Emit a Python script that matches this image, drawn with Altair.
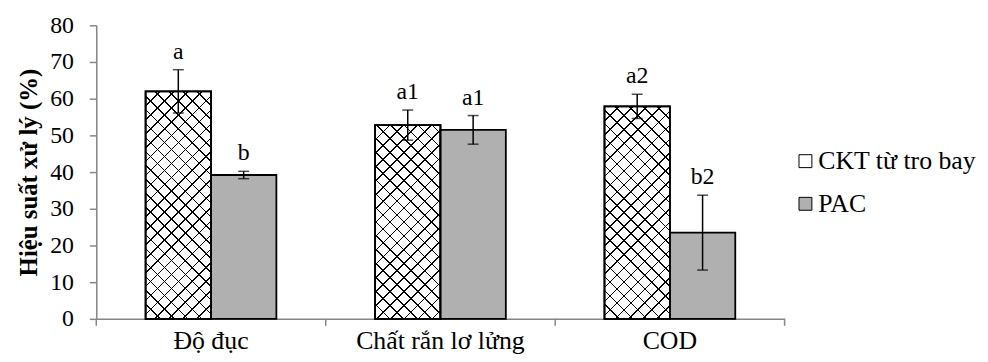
import altair as alt
import pandas as pd

# ---- data ----
categories = ["Độ đục", "Chất rắn lơ lửng", "COD"]
series = ["CKT từ tro bay", "PAC"]
ckt_values = [62.0, 52.8, 57.9]
ckt_errors = [5.9, 4.1, 3.3]
pac_values = [39.2, 51.5, 23.5]
pac_errors = [1.0, 3.9, 10.2]
ckt_labels = ["a", "a1", "a2"]
pac_labels = ["b", "a1", "b2"]
y_ticks = [0, 10, 20, 30, 40, 50, 60, 70, 80]
group_bounds = [0, 1, 2, 3]

rows = []
for i, c in enumerate(categories):
    rows.append(dict(cat=c, ser=series[0], val=ckt_values[i], err=ckt_errors[i],
                     lo=ckt_values[i] - ckt_errors[i], hi=ckt_values[i] + ckt_errors[i], lab=ckt_labels[i]))
    rows.append(dict(cat=c, ser=series[1], val=pac_values[i], err=pac_errors[i],
                     lo=pac_values[i] - pac_errors[i], hi=pac_values[i] + pac_errors[i], lab=pac_labels[i]))
df = pd.DataFrame(rows)
bounds_df = pd.DataFrame({"b": group_bounds})

W, H = 694, 296
YMAX = 80
FONT = "Liberation Serif"
GRAY_AX = "#868686"
PAC_COLOR = "#b0b0b0"
Y_TITLE = "Hiệu suất xử lý (%)"

step = W / len(categories)
inner = 0.43
band_w = step * (1 - inner)
bar_w = band_w / 2

x_scale = alt.Scale(domain=categories, paddingInner=inner, paddingOuter=inner / 2)
x_axis = alt.Axis(labelFont=FONT, labelFontSize=26, labelColor="black", labelAngle=0,
                  ticks=False, tickSize=0, labelPadding=30, domainColor=GRAY_AX,
                  domainWidth=1.5, labelBaseline="alphabetic", labelOverlap=False, grid=False)
y_scale = alt.Scale(domain=[0, YMAX], nice=False)
y_axis = alt.Axis(values=y_ticks, grid=False, labelFont=FONT, labelFontSize=24,
                  labelColor="black", tickSize=7, tickColor=GRAY_AX, tickWidth=1.5,
                  domainColor=GRAY_AX, domainWidth=1.5, labelPadding=16, labelOverlap=False,
                  titleFont=FONT, titleFontSize=25, titleFontWeight="bold",
                  titleColor="black", titlePadding=8)


def X():
    return alt.X("cat:N", sort=categories, title=None, scale=x_scale, axis=x_axis)


def Y(field):
    return alt.Y(field + ":Q", scale=y_scale, axis=y_axis, title=Y_TITLE)


xo_enc = alt.XOffset("ser:N", sort=series, scale=alt.Scale(domain=series, paddingInner=0, paddingOuter=0))

base = alt.Chart(df)

bars = base.mark_bar(stroke="black", strokeWidth=1.8).encode(
    x=X(), xOffset=xo_enc, y=Y("val"),
    fill=alt.Fill("ser:N", sort=series,
                  scale=alt.Scale(domain=series, range=["white", PAC_COLOR]),
                  legend=alt.Legend(title=None, orient="none", legendX=702, legendY=124,
                                    labelFont=FONT, labelFontSize=26, labelColor="black",
                                    symbolType="square", symbolSize=169, symbolStrokeColor="black",
                                    symbolStrokeWidth=1, labelOffset=0,
                                    rowPadding=17, padding=0, labelLimit=400))
)


def hatch(w, h, direction, period=14.0, thick=1.6):
    L = w + h
    stops = []
    c = 0.0
    clear = "rgba(0,0,0,0)"
    while c < L:
        a = c / L
        b = min((c + thick) / L, 1.0)
        stops += [{"color": clear, "offset": a}, {"color": "black", "offset": a},
                  {"color": "black", "offset": b}, {"color": clear, "offset": b}]
        c += period
    s = L / (w * w + h * h)
    if direction == "down":
        x1, y1, x2, y2 = 0, 0, w * s, h * s
    else:
        x1, y1, x2, y2 = 0, 1, w * s, 1 - h * s
    return {"gradient": "linear", "x1": x1, "y1": y1, "x2": x2, "y2": y2, "stops": stops}


layers = [bars]
for i, c in enumerate(categories):
    h = ckt_values[i] * H / YMAX
    for d in ("down", "up"):
        layers.append(
            base.transform_filter((alt.datum.cat == c) & (alt.datum.ser == series[0]))
            .mark_bar(fill=hatch(bar_w, h, d), strokeWidth=0)
            .encode(x=X(), xOffset=xo_enc, y=Y("val"))
        )

outline = base.transform_filter(alt.datum.ser == series[0]).mark_bar(
    fillOpacity=0, stroke="black", strokeWidth=1.8
).encode(x=X(), xOffset=xo_enc, y=Y("val"))
layers.append(outline)

err_rule = base.mark_rule(color="black", strokeWidth=1.5).encode(
    x=X(), xOffset=xo_enc, y=Y("lo"), y2="hi:Q")
err_top = base.mark_tick(color="black", thickness=1.5, size=11).encode(
    x=X(), xOffset=xo_enc, y=Y("hi"))
err_bot = base.mark_tick(color="black", thickness=1.5, size=11).encode(
    x=X(), xOffset=xo_enc, y=Y("lo"))
labels = base.mark_text(font=FONT, fontSize=24, color="black", baseline="alphabetic", dy=-11).encode(
    x=X(), xOffset=xo_enc, y=Y("hi"), text="lab:N")
layers += [err_rule, err_top, err_bot, labels]

main = alt.layer(*layers)

bound_ticks = alt.Chart(bounds_df).mark_rule(color=GRAY_AX, strokeWidth=1.5).encode(
    x=alt.X("b:Q", scale=alt.Scale(domain=[0, 3], nice=False, zero=False), axis=None),
    y=alt.value(H), y2=alt.value(H + 7))

chart = alt.layer(main, bound_ticks).resolve_scale(x="independent").properties(
    width=W, height=H,
    autosize=alt.AutoSizeParams(type="none"),
    padding={"left": 89, "top": 16, "right": 197, "bottom": 34},
).configure(
    background="white",
    view=alt.ViewConfig(stroke=None),
)

chart.save("out.html", embed_options={"renderer": "svg", "actions": False})
